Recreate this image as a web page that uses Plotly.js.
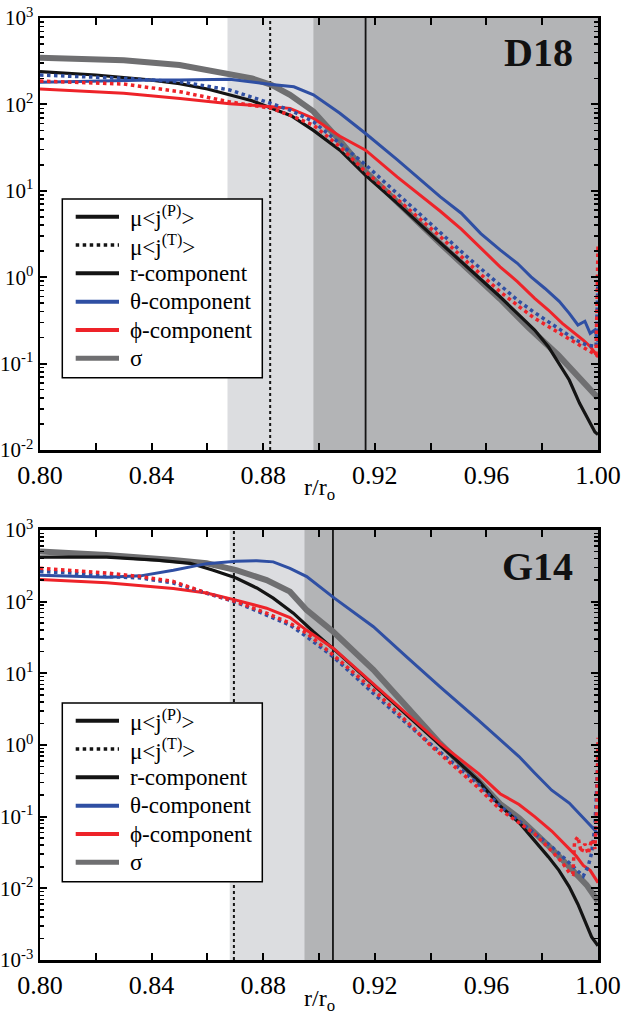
<!DOCTYPE html>
<html>
<head>
<meta charset="utf-8">
<script src="https://cdn.plot.ly/plotly-3.0.1.min.js"></script>
<style>
  html, body { margin: 0; padding: 0; background: #fff; }
  #chart { width: 624px; height: 1021px; }
</style>
</head>
<body>
<div id="chart"></div>
<script>
// ---------------- D18 (top panel) ----------------
const d18SigmaX = [0.80, 0.83, 0.85, 0.868, 0.876, 0.883, 0.8896, 0.898, 0.9075, 0.9167, 0.93, 0.9435, 0.9649, 0.975, 0.9857, 1.0];
const d18SigmaY = [347, 324, 286, 229, 200, 168, 129, 83, 38, 16.6, 6.3, 2.45, 0.56, 0.263, 0.126, 0.040];

const d18RX = [0.80, 0.82, 0.84, 0.85, 0.86, 0.868, 0.876, 0.883, 0.89, 0.898, 0.9075, 0.9167, 0.928, 0.941, 0.953, 0.9649, 0.9723, 0.9773, 0.9822, 0.986, 0.9897, 0.9934, 0.9965, 0.9989, 1.0];
const d18RY = [240, 219, 191, 174, 151, 129, 110, 90, 74, 50, 29.5, 15.1, 7.2, 2.95, 1.32, 0.594, 0.349, 0.245, 0.157, 0.1007, 0.0646, 0.0347, 0.0224, 0.0162, 0.0151];

const d18ThPX = [0.80, 0.82, 0.84, 0.85, 0.868, 0.883, 0.891, 0.898, 0.9075, 0.9167, 0.928, 0.9435, 0.951, 0.958, 0.9649, 0.9711, 0.976, 0.981, 0.9861, 0.9897, 0.9928, 0.9953, 0.9972, 0.9989, 1.0];
const d18ThPY = [180, 186, 191, 191, 195, 170, 160, 129, 79, 46, 22.9, 8.5, 5.5, 3.2, 2.07, 1.45, 1.01, 0.74, 0.525, 0.382, 0.280, 0.309, 0.224, 0.245, 0.179];

const d18PhPX = [0.80, 0.83, 0.8502, 0.868, 0.883, 0.8896, 0.898, 0.9075, 0.9167, 0.928, 0.9435, 0.951, 0.9649, 0.9711, 0.9773, 0.9822, 0.9872, 0.9910, 0.9947, 0.9972, 1.0];
const d18PhPY = [151, 135, 117, 102, 94, 90, 69, 42.7, 29.5, 14.5, 5.8, 3.6, 1.32, 0.89, 0.570, 0.417, 0.292, 0.234, 0.187, 0.158, 0.120];

const d18ThTX = [0.80, 0.83, 0.8502, 0.868, 0.883, 0.8896, 0.898, 0.9075, 0.9167, 0.928, 0.9435, 0.954, 0.9649, 0.9717, 0.9773, 0.9822, 0.9872, 0.9922, 0.9959, 0.9993, 1.0];
const d18ThTY = [219, 200, 183, 147, 102, 86, 63, 35.5, 20, 9.3, 3.24, 1.62, 0.81, 0.525, 0.389, 0.305, 0.234, 0.186, 0.164, 0.158, 0.93];

const d18PhTX = [0.80, 0.83, 0.8502, 0.868, 0.883, 0.8896, 0.898, 0.9075, 0.9167, 0.928, 0.9435, 0.954, 0.9649, 0.9717, 0.9773, 0.9822, 0.9872, 0.9922, 0.9959, 0.9993, 1.0];
const d18PhTY = [186, 172, 140, 107, 90, 75, 57.5, 32.4, 16.6, 8.1, 2.95, 1.41, 0.68, 0.457, 0.334, 0.269, 0.214, 0.172, 0.145, 0.126, 2.3];

// [light zone start, dark zone start, dotted line, solid line]
const d18Zones = [0.8672, 0.898, 0.8825, 0.9167];

// ---------------- G14 (bottom panel) ----------------
const g14SigmaX = [0.80, 0.8239, 0.8478, 0.8597, 0.8703, 0.8812, 0.8896, 0.8956, 0.9051, 0.9195, 0.9314, 0.9434, 0.9572, 0.9649, 0.9717, 0.9773, 0.9834, 0.9897, 0.9959, 1.0];
const g14SigmaY = [501, 447, 380, 343, 275, 200, 138, 76, 38, 11.2, 3.43, 1.05, 0.316, 0.151, 0.0955, 0.0603, 0.0355, 0.020, 0.0112, 0.0066];

const g14RX = [0.80, 0.8239, 0.8418, 0.8538, 0.8621, 0.8703, 0.8777, 0.8836, 0.8908, 0.898, 0.9055, 0.9135, 0.9254, 0.9374, 0.9434, 0.9572, 0.9649, 0.9717, 0.9773, 0.9822, 0.986, 0.9897, 0.9928, 0.9953, 0.9977, 1.0];
const g14RY = [417, 417, 380, 343, 275, 214, 155, 112, 69, 38, 21.4, 11.2, 4.27, 1.62, 1.0, 0.316, 0.141, 0.083, 0.0468, 0.0275, 0.0178, 0.0105, 0.0060, 0.00355, 0.0021, 0.00158];

const g14ThPX = [0.80, 0.812, 0.824, 0.836, 0.8478, 0.8597, 0.8703, 0.8777, 0.8836, 0.8896, 0.8956, 0.9055, 0.9195, 0.9314, 0.9434, 0.957, 0.9717, 0.9773, 0.9834, 0.9897, 0.9947, 0.9989, 1.0];
const g14ThPY = [234, 229, 219, 229, 275, 339, 367, 372, 359, 292, 224, 112, 44.7, 17.0, 6.46, 2.24, 0.69, 0.407, 0.234, 0.155, 0.0955, 0.0646, 0.056];

const g14PhPX = [0.80, 0.8239, 0.8478, 0.8597, 0.8703, 0.8812, 0.8896, 0.8956, 0.9051, 0.9195, 0.9314, 0.9434, 0.9572, 0.9649, 0.9717, 0.9773, 0.9834, 0.9897, 0.9922, 0.9947, 0.9972, 1.0];
const g14PhPY = [204, 184, 153, 132, 105, 81, 60, 39.8, 22.4, 7.2, 2.75, 1.05, 0.398, 0.209, 0.148, 0.1, 0.063, 0.0355, 0.0282, 0.0209, 0.0178, 0.012];

const g14ThTX = [0.80, 0.812, 0.824, 0.836, 0.8478, 0.8597, 0.8703, 0.8812, 0.8896, 0.8956, 0.9051, 0.9195, 0.9314, 0.941, 0.9572, 0.9649, 0.9711, 0.9773, 0.9834, 0.9885, 0.9922, 0.9947, 0.9965, 0.9977, 0.9989, 0.9996, 1.0];
const g14ThTY = [263, 251, 224, 214, 182, 132, 98, 65, 47, 32.4, 17.0, 5.25, 2.0, 0.955, 0.282, 0.141, 0.0912, 0.0603, 0.038, 0.0251, 0.0182, 0.0148, 0.0204, 0.0309, 0.0724, 0.214, 0.63];

const g14PhTX = [0.80, 0.812, 0.824, 0.836, 0.8478, 0.8597, 0.8703, 0.8812, 0.8896, 0.8956, 0.9051, 0.9195, 0.9314, 0.9398, 0.9572, 0.9649, 0.9723, 0.9773, 0.9834, 0.9872, 0.9897, 0.9910, 0.9916, 0.9928, 0.9940, 0.9953, 0.9965, 0.9977, 0.9989, 0.9996, 1.0];
const g14PhTY = [292, 269, 251, 224, 191, 132, 100, 69, 50, 36.3, 18.0, 5.9, 2.14, 1.0, 0.251, 0.126, 0.0794, 0.0575, 0.0331, 0.0229, 0.0166, 0.0158, 0.0447, 0.0525, 0.0316, 0.0417, 0.0302, 0.0479, 0.0355, 0.158, 1.26];

const g14Zones = [0.868, 0.8948, 0.8695, 0.905];

// ---------------- labels / ticks ----------------
const legendLabels = ['μ&lt;j<sup>(P)</sup>&gt;', 'μ&lt;j<sup>(T)</sup>&gt;', 'r-component', 'θ-component', 'ϕ-component', 'σ'];
const panelNames = ['D18', 'G14'];
const axisTitle = 'r/r<sub>o</sub>';
const xTickVals = [0.80, 0.84, 0.88, 0.92, 0.96, 1.00];
const xTickText = ['0.80', '0.84', '0.88', '0.92', '0.96', '1.00'];
const xMinorVals = [0.82, 0.86, 0.90, 0.94, 0.98];
const yTopVals = [0.01, 0.1, 1, 10, 100, 1000];
const yTopText = ['10<sup>-2</sup>', '10<sup>-1</sup>', '10<sup>0</sup>', '10<sup>1</sup>', '10<sup>2</sup>', '10<sup>3</sup>'];
const yBotVals = [0.001, 0.01, 0.1, 1, 10, 100, 1000];
const yBotText = ['10<sup>-3</sup>', '10<sup>-2</sup>', '10<sup>-1</sup>', '10<sup>0</sup>', '10<sup>1</sup>', '10<sup>2</sup>', '10<sup>3</sup>'];

// ---------------- styles ----------------
const FONT = '"Liberation Serif", "Times New Roman", Times, serif';
const C_BLACK = '#141414', C_BLUE = '#2f4fa3', C_RED = '#ee2329', C_GRAY = '#6f6f71';
const C_LIGHT = '#dcdde0', C_DARK = '#b3b4b6';
const PLOT_W = 558;                 // px width of each plot area
const PANEL_H = [432, 430];         // px height of each plot area
const LEG_TOP = [181, 173];         // px from plot top to legend box top
const LEG = { left: 22.3, right: 222.3, height: 178.7, first: 17.7, step: 28.33, lx0: 35.7, lx1: 79, tx: 87.7 };

const legendStyles = [
  { color: C_BLACK, width: 4, dash: 'solid' },
  { color: C_BLACK, width: 3.5, dash: 'dot' },
  { color: C_BLACK, width: 4, dash: 'solid' },
  { color: C_BLUE, width: 4, dash: 'solid' },
  { color: C_RED, width: 4, dash: 'solid' },
  { color: C_GRAY, width: 5, dash: 'solid' }
];

function minorVals(lo, hi) {
  const v = [];
  for (let e = lo; e < hi; e++) for (let m = 2; m <= 9; m++) v.push(m * Math.pow(10, e));
  return v;
}

function panelTraces(xa, ya, s) {
  const t = [];
  const add = (name, x, y, color, width, dash) => t.push({
    type: 'scatter', mode: 'lines', name: name, x: x, y: y, xaxis: xa, yaxis: ya,
    line: { color: color, width: width, dash: dash || 'solid' },
    showlegend: false, hoverinfo: 'skip'
  });
  add('σ', s.sigX, s.sigY, C_GRAY, 6);
  add('r-component (P)', s.rX, s.rY, C_BLACK, 3.2);
  add('θ-component (P)', s.thPX, s.thPY, C_BLUE, 3);
  add('ϕ-component (P)', s.phPX, s.phPY, C_RED, 3);
  add('θ-component (T)', s.thTX, s.thTY, C_BLUE, 3.5, 'dot');
  add('ϕ-component (T)', s.phTX, s.phTY, C_RED, 3.5, 'dot');
  return t;
}

const data = [].concat(
  panelTraces('x', 'y', {
    sigX: d18SigmaX, sigY: d18SigmaY, rX: d18RX, rY: d18RY,
    thPX: d18ThPX, thPY: d18ThPY, phPX: d18PhPX, phPY: d18PhPY,
    thTX: d18ThTX, thTY: d18ThTY, phTX: d18PhTX, phTY: d18PhTY
  }),
  panelTraces('x2', 'y2', {
    sigX: g14SigmaX, sigY: g14SigmaY, rX: g14RX, rY: g14RY,
    thPX: g14ThPX, thPY: g14ThPY, phPX: g14PhPX, phPY: g14PhPY,
    thTX: g14ThTX, thTY: g14ThTY, phTX: g14PhTX, phTY: g14PhTY
  })
);

function zoneShapes(xr, yr, z) {
  return [
    { type: 'rect', xref: xr, yref: yr + ' domain', x0: z[0], x1: 1.0, y0: 0, y1: 1, fillcolor: C_LIGHT, line: { width: 0 }, layer: 'below' },
    { type: 'rect', xref: xr, yref: yr + ' domain', x0: z[1], x1: 1.0, y0: 0, y1: 1, fillcolor: C_DARK, line: { width: 0 }, layer: 'below' },
    { type: 'line', xref: xr, yref: yr + ' domain', x0: z[2], x1: z[2], y0: 0, y1: 1, line: { color: C_BLACK, width: 2, dash: 'dot' }, layer: 'below' },
    { type: 'line', xref: xr, yref: yr + ' domain', x0: z[3], x1: z[3], y0: 0, y1: 1, line: { color: C_BLACK, width: 1.8 }, layer: 'below' }
  ];
}

// legend drawn as a box with sample lines and labels in each panel
function legendParts(p) {
  const xr = p === 0 ? 'x domain' : 'x2 domain';
  const yr = p === 0 ? 'y domain' : 'y2 domain';
  const H = PANEL_H[p];
  const yd = px => 1 - px / H;
  const shapes = [{
    type: 'rect', xref: xr, yref: yr,
    x0: LEG.left / PLOT_W, x1: LEG.right / PLOT_W,
    y0: yd(LEG_TOP[p]), y1: yd(LEG_TOP[p] + LEG.height),
    fillcolor: '#fff', line: { color: '#000', width: 1.5 }, layer: 'above'
  }];
  const anns = [];
  legendLabels.forEach((lab, i) => {
    const yy = yd(LEG_TOP[p] + LEG.first + LEG.step * i);
    shapes.push({ type: 'line', xref: xr, yref: yr, x0: LEG.lx0 / PLOT_W, x1: LEG.lx1 / PLOT_W, y0: yy, y1: yy,
      line: legendStyles[i], layer: 'above' });
    anns.push({ xref: xr, yref: yr, x: LEG.tx / PLOT_W, y: yy, xanchor: 'left', yanchor: 'middle', showarrow: false,
      text: lab, font: { family: FONT, size: 23, color: '#000' } });
  });
  return { shapes, anns };
}
const leg0 = legendParts(0), leg1 = legendParts(1);

const xCommon = {
  range: [0.8, 1.0], tickmode: 'array', tickvals: xTickVals, ticktext: xTickText,
  ticks: 'inside', ticklen: 7, tickwidth: 2, tickcolor: '#000',
  minor: { tickmode: 'array', tickvals: xMinorVals, ticks: 'inside', ticklen: 7, tickwidth: 2, tickcolor: '#000', showgrid: false },
  showline: true, linewidth: 2.5, linecolor: '#000', mirror: 'allticks',
  showgrid: false, zeroline: false,
  tickfont: { family: FONT, size: 26, color: '#000' }
};
function yCommon(vals, text, range, lo, hi) {
  return {
    type: 'log', range: range, tickmode: 'array', tickvals: vals, ticktext: text,
    ticks: 'inside', ticklen: 7, tickwidth: 2, tickcolor: '#000',
    minor: { tickmode: 'array', tickvals: minorVals(lo, hi), ticks: 'inside', ticklen: 4, tickwidth: 1.5, tickcolor: '#000', showgrid: false },
    showline: true, linewidth: 2.5, linecolor: '#000', mirror: 'allticks',
    showgrid: false, zeroline: false,
    tickfont: { family: FONT, size: 21, color: '#000' }
  };
}

const layout = {
  width: 624, height: 1021,
  margin: { l: 40, r: 26, t: 18, b: 61 },
  paper_bgcolor: '#fff', plot_bgcolor: '#fff',
  font: { family: FONT, color: '#000' },
  showlegend: false,
  xaxis: Object.assign({}, xCommon, { anchor: 'y', domain: [0, 1] }),
  yaxis: Object.assign(yCommon(yTopVals, yTopText, [-2, 3], -2, 3), { anchor: 'x', domain: [0.5414, 1] }),
  xaxis2: Object.assign({}, xCommon, { anchor: 'y2', domain: [0, 1] }),
  yaxis2: Object.assign(yCommon(yBotVals, yBotText, [-3, 3], -3, 3), { anchor: 'x2', domain: [0, 0.4565] }),
  shapes: [].concat(zoneShapes('x', 'y', d18Zones), zoneShapes('x2', 'y2', g14Zones), leg0.shapes, leg1.shapes),
  annotations: [
    { xref: 'x domain', yref: 'y domain', x: 0.959, y: 0.921, xanchor: 'right', yanchor: 'middle', showarrow: false,
      text: '<b>' + panelNames[0] + '</b>', font: { family: FONT, size: 40, color: '#111' } },
    { xref: 'x2 domain', yref: 'y2 domain', x: 0.959, y: 0.916, xanchor: 'right', yanchor: 'middle', showarrow: false,
      text: '<b>' + panelNames[1] + '</b>', font: { family: FONT, size: 40, color: '#111' } },
    { xref: 'x domain', yref: 'y domain', x: 0.5, y: 1 - 454 / 432, xanchor: 'center', yanchor: 'top', showarrow: false,
      text: axisTitle, font: { family: FONT, size: 24, color: '#000' } },
    { xref: 'x2 domain', yref: 'y2 domain', x: 0.5, y: 1 - 453 / 430, xanchor: 'center', yanchor: 'top', showarrow: false,
      text: axisTitle, font: { family: FONT, size: 24, color: '#000' } }
  ].concat(leg0.anns, leg1.anns)
};

Plotly.newPlot('chart', data, layout, { staticPlot: true, displayModeBar: false });
</script>
</body>
</html>
